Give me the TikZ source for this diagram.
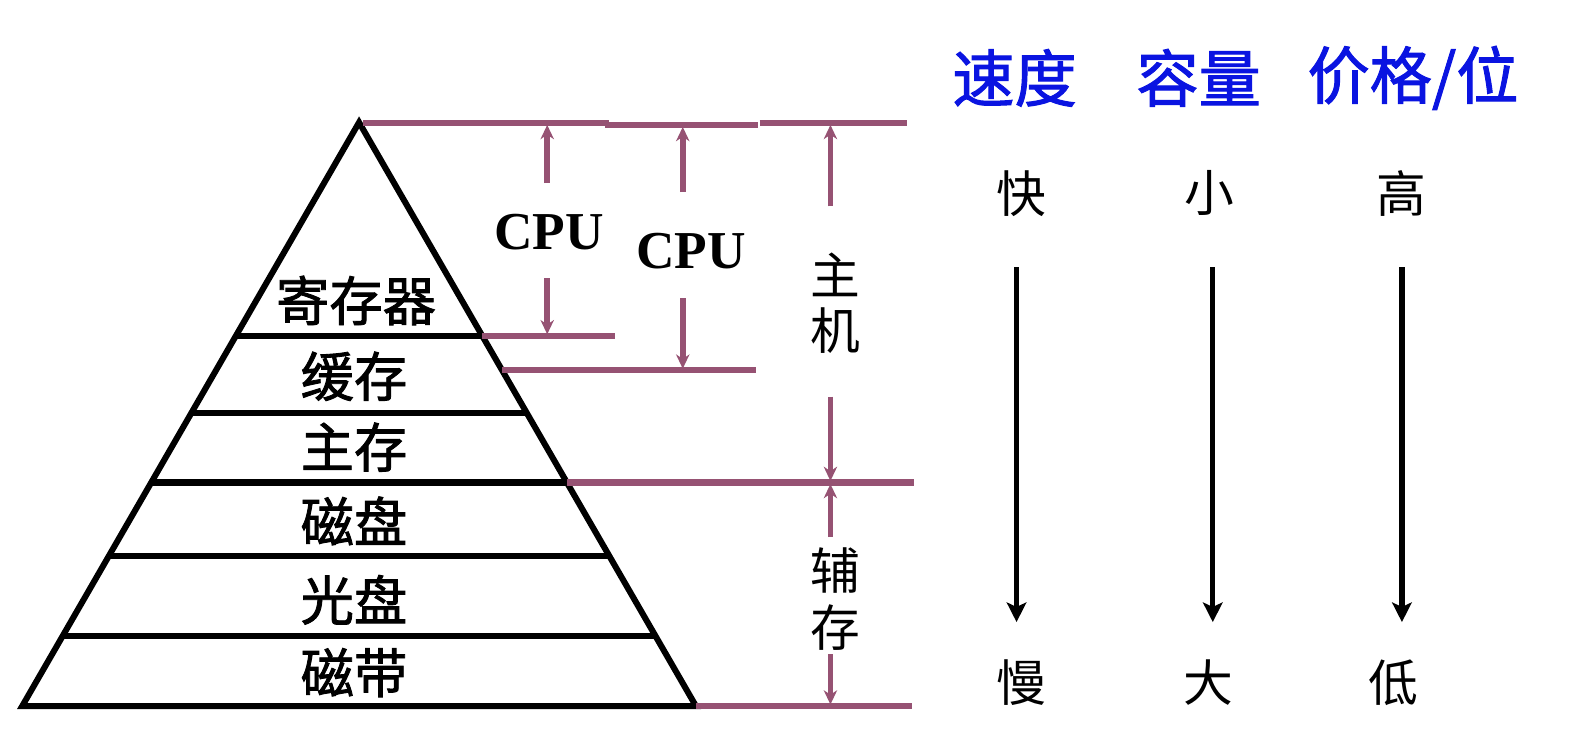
\documentclass[tikz,border=0pt]{standalone}
\usepackage{fontspec}
\setmainfont{Liberation Serif}
\newfontfamily\cjk[FakeBold=1.6]{Noto Sans CJK SC}
\newfontfamily\cjklight{Noto Sans CJK SC}
\usetikzlibrary{arrows.meta}
\definecolor{plum}{RGB}{150,82,115}
\definecolor{hdrblue}{RGB}{10,20,225}
\begin{document}
\begin{tikzpicture}[x=0.02cm,y=-0.02cm,
  pyr/.style={draw=black,line width=3.4pt,line join=miter},
  guide/.style={draw=plum,line width=3.4pt},
  dim/.style={draw=plum,line width=3.1pt,-{Stealth[length=8pt,width=7.5pt,inset=2.5pt]}},
  flow/.style={draw=black,line width=3pt,-{Stealth[length=11pt,width=11pt,inset=2.5pt]}},
  lab/.style={font=\cjk\fontsize{30}{30}\selectfont,inner sep=0pt},
  side/.style={font=\cjklight\fontsize{28}{28}\selectfont,inner sep=0pt},
  hdr/.style={font=\cjk\fontsize{35}{35}\selectfont,text=hdrblue,inner sep=0pt},
  cpu/.style={font=\bfseries\fontsize{30}{30}\selectfont,inner sep=0pt}]
\useasboundingbox (0,0) rectangle (1568,741);

% pyramid
\coordinate (apex) at (355,121);
\coordinate (bl) at (22,698);
\coordinate (br) at (688,698);
\draw[pyr] (apex) -- (bl) -- (br) -- cycle;
\coordinate (l1) at (233.2,332); \coordinate (r1) at (476.8,332);
\coordinate (l2) at (189.4,408); \coordinate (r2) at (520.6,408);
\coordinate (l3) at (149.5,477); \coordinate (r3) at (560.5,477);
\coordinate (l4) at (107.4,550); \coordinate (r4) at (602.6,550);
\coordinate (l5) at (61.8,629);  \coordinate (r5) at (648.2,629);
\coordinate (r15) at (496.4,366);
\foreach \i in {1,...,5} \draw[pyr] (l\i) -- (r\i);

\node[lab] (reg) at (352,297) {寄存器};
\node[lab] (cache) at (350,372) {缓存};
\node[lab] (mem) at (350,442) {主存};
\node[lab] (disk) at (350,515) {磁盘};
\node[lab] (cd) at (350,593) {光盘};
\node[lab] (tape) at (350,665) {磁带};

% purple guide lines
\coordinate (t0) at (359,121.5); \coordinate (t1) at (602,121.5);
\coordinate (t2) at (598,123.5); \coordinate (t3) at (749,123.5);
\coordinate (t4) at (751,121.5); \coordinate (t5) at (897,121.5);
\draw[guide] (t0) -- (t1);
\draw[guide] (t2) -- (t3);
\draw[guide] (t4) -- (t5);
\coordinate (g1e) at (608,332);
\draw[guide] (r1) -- (g1e);
\coordinate (g15e) at (747,366);
\draw[guide] (r15) -- (g15e);
\coordinate (g3e) at (904,477);
\draw[guide] (r3) -- (g3e);
\coordinate (g6e) at (902,698);
\draw[guide] (br) -- (g6e);

% CPU 1
\node[cpu] (cpu1) at (543,229) {CPU};
\coordinate (c1a) at (541,181); \coordinate (c1t) at (541,123.5);
\coordinate (c1b) at (541,275); \coordinate (c1d) at (541,330.5);
\draw[dim] (c1a) -- (c1t);
\draw[dim] (c1b) -- (c1d);

% CPU 2
\node[cpu] (cpu2) at (683,248) {CPU};
\coordinate (c2a) at (675,190); \coordinate (c2t) at (675,125.5);
\coordinate (c2b) at (675,295); \coordinate (c2d) at (675,364.5);
\draw[dim] (c2a) -- (c2t);
\draw[dim] (c2b) -- (c2d);

% host
\node[side] (zhu) at (826,272) {主};
\node[side] (ji) at (826,327) {机};
\coordinate (h1a) at (821,204); \coordinate (h1t) at (821,123.5);
\coordinate (h1b) at (821,392); \coordinate (h1d) at (821,475.5);
\draw[dim] (h1a) -- (h1t);
\draw[dim] (h1b) -- (h1d);

% auxiliary storage
\node[side] (fu) at (826,564) {辅};
\node[side] (cun) at (826,620) {存};
\coordinate (a1a) at (821,531); \coordinate (a1t) at (821,478.5);
\coordinate (a1b) at (821,647); \coordinate (a1d) at (821,696.5);
\draw[dim] (a1a) -- (a1t);
\draw[dim] (a1b) -- (a1d);

% right side
\node[hdr] (speed) at (1003,77) {速度};
\node[hdr] (cap) at (1185,77) {容量};
\node[hdr] (price) at (1397,77) {价格/位};

\node[side] (fast) at (1010,191) {快};
\node[side] (small) at (1196,191) {小};
\node[side] (high) at (1385,191) {高};
\node[side] (slow) at (1010,675) {慢};
\node[side] (big) at (1195,675) {大};
\node[side] (low) at (1378,675) {低};

\coordinate (f1) at (1005,264); \coordinate (f2) at (1005,615);
\coordinate (s1) at (1199,264); \coordinate (s2) at (1199,615);
\coordinate (p1) at (1386,264); \coordinate (p2) at (1386,615);
\draw[flow] (f1) -- (f2);
\draw[flow] (s1) -- (s2);
\draw[flow] (p1) -- (p2);
\end{tikzpicture}
\end{document}
